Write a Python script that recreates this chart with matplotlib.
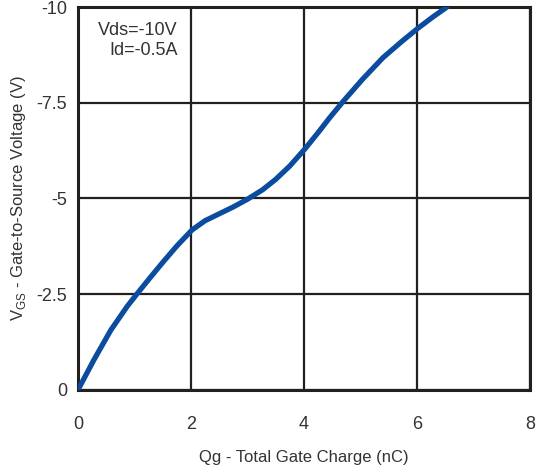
import numpy as np
import matplotlib.pyplot as plt

plt.rcParams['font.family'] = ['Liberation Sans', 'DejaVu Sans']

# gate charge curve
qg = [0, 0.28, 0.58, 0.87, 1.04, 1.27, 1.5, 1.75, 2.02, 2.25, 2.5, 2.75, 3.0,
      3.27, 3.5, 3.75, 4.02, 4.25, 4.45, 4.69, 5.04, 5.40, 5.73, 6.02, 6.28, 6.53]
vgs = [0, -0.78, -1.56, -2.18, -2.5, -2.92, -3.33, -3.76, -4.18, -4.42, -4.6, -4.78, -4.98,
       -5.23, -5.5, -5.85, -6.3, -6.72, -7.1, -7.53, -8.12, -8.68, -9.1, -9.45, -9.74, -10]

x_ticks = [0, 2, 4, 6, 8]
y_ticks = [0, -2.5, -5, -7.5, -10]
y_labels = ['0', '-2.5', '-5', '-7.5', '-10']

fig = plt.figure(figsize=(5.38, 4.72), dpi=100)
ax = fig.add_axes([0.145, 0.174, 0.84, 0.811])

ax.plot(qg, vgs, color='#0b4c9e', lw=3.8, solid_capstyle='round',
        solid_joinstyle='round', zorder=3)

ax.set_xlim(0, 8)
ax.set_ylim(0, -10)
ax.set_xticks(x_ticks)
ax.set_yticks(y_ticks)
ax.set_yticklabels(y_labels)
ax.grid(True, color='#231f1c', lw=1.6)
for s in ax.spines.values():
    s.set_color('#231f1c')
    s.set_linewidth(2.2)
ax.tick_params(length=0, labelsize=13, colors='#333333')
ax.tick_params(axis='x', pad=19)
ax.tick_params(axis='y', pad=8)

ax.set_xlabel('Qg - Total Gate Charge (nC)', fontsize=12, color='#333333', labelpad=12)
ax.set_ylabel('V$_{\\mathregular{GS}}$ - Gate-to-Source Voltage (V)', fontsize=12,
              color='#333333', labelpad=6)

ax.text(1.77, -9.6, 'Vds=-10V\nId=-0.5A', ha='right', va='top', fontsize=13,
        color='#333333', linespacing=1.2)

fig.savefig('out.png', dpi=100)
